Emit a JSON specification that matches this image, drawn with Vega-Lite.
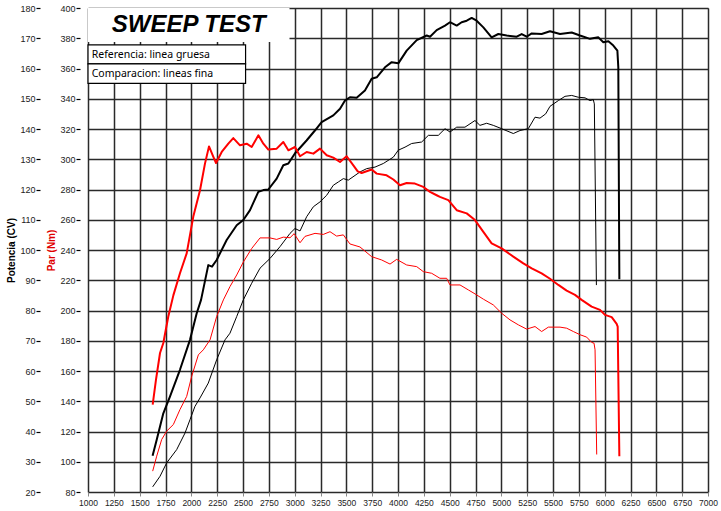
{
  "$schema": "https://vega.github.io/schema/vega-lite/v6.json",
  "width": 620,
  "height": 484,
  "autosize": {"type": "none"},
  "padding": {"left": 88, "top": 8, "right": 13, "bottom": 19},
  "background": "white",
  "config": {
    "view": {"stroke": "#888", "strokeWidth": 1},
    "axis": {"labelFont": "Liberation Sans", "labelFontSize": 9, "labelColor": "#222", "titleFont": "Liberation Sans", "labelFlush": false}
  },
  "datasets": {
    "power": [
      {"curve":"Referencia","rpm":1625,"cv":32},{"curve":"Referencia","rpm":1665,"cv":37.3},{"curve":"Referencia","rpm":1729,"cv":46},{"curve":"Referencia","rpm":1794,"cv":51.6},{"curve":"Referencia","rpm":1890,"cv":60.4},{"curve":"Referencia","rpm":1987,"cv":70.3},{"curve":"Referencia","rpm":2052,"cv":79.1},{"curve":"Referencia","rpm":2094,"cv":83.5},{"curve":"Referencia","rpm":2164,"cv":95},{"curve":"Referencia","rpm":2200,"cv":94.5},{"curve":"Referencia","rpm":2245,"cv":96.7},{"curve":"Referencia","rpm":2342,"cv":103.3},{"curve":"Referencia","rpm":2439,"cv":108.2},{"curve":"Referencia","rpm":2503,"cv":109.9},{"curve":"Referencia","rpm":2568,"cv":113.2},{"curve":"Referencia","rpm":2648,"cv":119.2},{"curve":"Referencia","rpm":2697,"cv":119.8},{"curve":"Referencia","rpm":2745,"cv":120},{"curve":"Referencia","rpm":2826,"cv":123.6},{"curve":"Referencia","rpm":2890,"cv":128},{"curve":"Referencia","rpm":2939,"cv":128.6},{"curve":"Referencia","rpm":3002,"cv":131.9},{"curve":"Referencia","rpm":3115,"cv":136.2},{"curve":"Referencia","rpm":3196,"cv":139.5},{"curve":"Referencia","rpm":3261,"cv":142.3},{"curve":"Referencia","rpm":3374,"cv":144.5},{"curve":"Referencia","rpm":3439,"cv":146.7},{"curve":"Referencia","rpm":3487,"cv":149.4},{"curve":"Referencia","rpm":3535,"cv":150.5},{"curve":"Referencia","rpm":3600,"cv":150.3},{"curve":"Referencia","rpm":3680,"cv":152.7},{"curve":"Referencia","rpm":3745,"cv":156.6},{"curve":"Referencia","rpm":3794,"cv":157.1},{"curve":"Referencia","rpm":3874,"cv":160.4},{"curve":"Referencia","rpm":3939,"cv":162.1},{"curve":"Referencia","rpm":4003,"cv":161.7},{"curve":"Referencia","rpm":4084,"cv":165.9},{"curve":"Referencia","rpm":4181,"cv":169.4},{"curve":"Referencia","rpm":4278,"cv":170.9},{"curve":"Referencia","rpm":4310,"cv":170.5},{"curve":"Referencia","rpm":4374,"cv":172.7},{"curve":"Referencia","rpm":4455,"cv":174.2},{"curve":"Referencia","rpm":4503,"cv":175.3},{"curve":"Referencia","rpm":4568,"cv":174.2},{"curve":"Referencia","rpm":4616,"cv":175.3},{"curve":"Referencia","rpm":4665,"cv":175.8},{"curve":"Referencia","rpm":4713,"cv":176.7},{"curve":"Referencia","rpm":4761,"cv":175.8},{"curve":"Referencia","rpm":4826,"cv":173.6},{"curve":"Referencia","rpm":4906,"cv":170.3},{"curve":"Referencia","rpm":4971,"cv":171.4},{"curve":"Referencia","rpm":5052,"cv":170.9},{"curve":"Referencia","rpm":5149,"cv":170.5},{"curve":"Referencia","rpm":5197,"cv":171.4},{"curve":"Referencia","rpm":5245,"cv":170.5},{"curve":"Referencia","rpm":5294,"cv":171.6},{"curve":"Referencia","rpm":5390,"cv":171.4},{"curve":"Referencia","rpm":5471,"cv":172.3},{"curve":"Referencia","rpm":5568,"cv":171.4},{"curve":"Referencia","rpm":5681,"cv":171.9},{"curve":"Referencia","rpm":5761,"cv":170.9},{"curve":"Referencia","rpm":5858,"cv":169.8},{"curve":"Referencia","rpm":5939,"cv":170.3},{"curve":"Referencia","rpm":5987,"cv":168.7},{"curve":"Referencia","rpm":6036,"cv":169},{"curve":"Referencia","rpm":6084,"cv":167.6},{"curve":"Referencia","rpm":6123,"cv":165.9},{"curve":"Referencia","rpm":6132,"cv":160.4},{"curve":"Referencia","rpm":6142,"cv":90.3},
      {"curve":"Comparacion","rpm":1626,"cv":21.7},{"curve":"Comparacion","rpm":1697,"cv":25.2},{"curve":"Comparacion","rpm":1761,"cv":29.6},{"curve":"Comparacion","rpm":1858,"cv":34},{"curve":"Comparacion","rpm":1939,"cv":39.5},{"curve":"Comparacion","rpm":1987,"cv":43.9},{"curve":"Comparacion","rpm":2035,"cv":48.3},{"curve":"Comparacion","rpm":2084,"cv":51.1},{"curve":"Comparacion","rpm":2164,"cv":56},{"curve":"Comparacion","rpm":2245,"cv":63.7},{"curve":"Comparacion","rpm":2326,"cv":70.3},{"curve":"Comparacion","rpm":2374,"cv":72.5},{"curve":"Comparacion","rpm":2439,"cv":78},{"curve":"Comparacion","rpm":2503,"cv":83.5},{"curve":"Comparacion","rpm":2584,"cv":89},{"curve":"Comparacion","rpm":2665,"cv":94},{"curve":"Comparacion","rpm":2761,"cv":97.2},{"curve":"Comparacion","rpm":2858,"cv":101.1},{"curve":"Comparacion","rpm":2955,"cv":105.5},{"curve":"Comparacion","rpm":3003,"cv":107.1},{"curve":"Comparacion","rpm":3052,"cv":106.3},{"curve":"Comparacion","rpm":3116,"cv":111},{"curve":"Comparacion","rpm":3181,"cv":114.3},{"curve":"Comparacion","rpm":3245,"cv":115.9},{"curve":"Comparacion","rpm":3310,"cv":118.1},{"curve":"Comparacion","rpm":3374,"cv":121.4},{"curve":"Comparacion","rpm":3423,"cv":122.5},{"curve":"Comparacion","rpm":3471,"cv":123.6},{"curve":"Comparacion","rpm":3519,"cv":123.1},{"curve":"Comparacion","rpm":3632,"cv":125.8},{"curve":"Comparacion","rpm":3697,"cv":126.9},{"curve":"Comparacion","rpm":3777,"cv":127.4},{"curve":"Comparacion","rpm":3858,"cv":128.6},{"curve":"Comparacion","rpm":3955,"cv":130.7},{"curve":"Comparacion","rpm":4003,"cv":133},{"curve":"Comparacion","rpm":4068,"cv":134},{"curve":"Comparacion","rpm":4132,"cv":135.2},{"curve":"Comparacion","rpm":4229,"cv":135.7},{"curve":"Comparacion","rpm":4294,"cv":137.9},{"curve":"Comparacion","rpm":4390,"cv":137.9},{"curve":"Comparacion","rpm":4455,"cv":140.1},{"curve":"Comparacion","rpm":4503,"cv":139},{"curve":"Comparacion","rpm":4568,"cv":140.6},{"curve":"Comparacion","rpm":4648,"cv":140.6},{"curve":"Comparacion","rpm":4745,"cv":142.8},{"curve":"Comparacion","rpm":4793,"cv":141.2},{"curve":"Comparacion","rpm":4858,"cv":141.9},{"curve":"Comparacion","rpm":4922,"cv":141.2},{"curve":"Comparacion","rpm":5003,"cv":140.1},{"curve":"Comparacion","rpm":5116,"cv":138.5},{"curve":"Comparacion","rpm":5181,"cv":139.5},{"curve":"Comparacion","rpm":5261,"cv":140.1},{"curve":"Comparacion","rpm":5326,"cv":143.9},{"curve":"Comparacion","rpm":5374,"cv":143.6},{"curve":"Comparacion","rpm":5429,"cv":145},{"curve":"Comparacion","rpm":5471,"cv":147.5},{"curve":"Comparacion","rpm":5552,"cv":149.4},{"curve":"Comparacion","rpm":5616,"cv":150.8},{"curve":"Comparacion","rpm":5681,"cv":151.1},{"curve":"Comparacion","rpm":5745,"cv":150.5},{"curve":"Comparacion","rpm":5810,"cv":150.3},{"curve":"Comparacion","rpm":5858,"cv":149.4},{"curve":"Comparacion","rpm":5890,"cv":149.7},{"curve":"Comparacion","rpm":5900,"cv":148.3},{"curve":"Comparacion","rpm":5920,"cv":88.4}
    ],
    "torque": [
      {"curve":"Referencia","rpm":1626,"nm":137.8},{"curve":"Referencia","rpm":1658,"nm":154.3},{"curve":"Referencia","rpm":1697,"nm":171.9},{"curve":"Referencia","rpm":1729,"nm":178.5},{"curve":"Referencia","rpm":1777,"nm":196},{"curve":"Referencia","rpm":1826,"nm":210},{"curve":"Referencia","rpm":1890,"nm":224.6},{"curve":"Referencia","rpm":1955,"nm":237.8},{"curve":"Referencia","rpm":2019,"nm":262.1},{"curve":"Referencia","rpm":2084,"nm":279.5},{"curve":"Referencia","rpm":2132,"nm":297.1},{"curve":"Referencia","rpm":2171,"nm":308.5},{"curve":"Referencia","rpm":2207,"nm":302.6},{"curve":"Referencia","rpm":2239,"nm":297.5},{"curve":"Referencia","rpm":2294,"nm":304.8},{"curve":"Referencia","rpm":2358,"nm":310.3},{"curve":"Referencia","rpm":2406,"nm":314},{"curve":"Referencia","rpm":2471,"nm":309.2},{"curve":"Referencia","rpm":2536,"nm":310.3},{"curve":"Referencia","rpm":2584,"nm":308.1},{"curve":"Referencia","rpm":2649,"nm":315.8},{"curve":"Referencia","rpm":2697,"nm":310.3},{"curve":"Referencia","rpm":2745,"nm":306.4},{"curve":"Referencia","rpm":2826,"nm":307},{"curve":"Referencia","rpm":2890,"nm":311.4},{"curve":"Referencia","rpm":2939,"nm":305.9},{"curve":"Referencia","rpm":3003,"nm":308.1},{"curve":"Referencia","rpm":3052,"nm":302},{"curve":"Referencia","rpm":3116,"nm":304.8},{"curve":"Referencia","rpm":3181,"nm":303.7},{"curve":"Referencia","rpm":3245,"nm":307},{"curve":"Referencia","rpm":3310,"nm":302.6},{"curve":"Referencia","rpm":3374,"nm":301.1},{"curve":"Referencia","rpm":3439,"nm":298.2},{"curve":"Referencia","rpm":3503,"nm":302},{"curve":"Referencia","rpm":3568,"nm":296},{"curve":"Referencia","rpm":3610,"nm":292},{"curve":"Referencia","rpm":3648,"nm":290.9},{"curve":"Referencia","rpm":3745,"nm":293.2},{"curve":"Referencia","rpm":3794,"nm":290.5},{"curve":"Referencia","rpm":3890,"nm":289.4},{"curve":"Referencia","rpm":3955,"nm":286.6},{"curve":"Referencia","rpm":4019,"nm":282.8},{"curve":"Referencia","rpm":4084,"nm":284.3},{"curve":"Referencia","rpm":4164,"nm":283.9},{"curve":"Referencia","rpm":4245,"nm":281.7},{"curve":"Referencia","rpm":4310,"nm":278.4},{"curve":"Referencia","rpm":4374,"nm":276.2},{"curve":"Referencia","rpm":4406,"nm":275.1},{"curve":"Referencia","rpm":4487,"nm":273},{"curve":"Referencia","rpm":4568,"nm":266.3},{"curve":"Referencia","rpm":4665,"nm":264.2},{"curve":"Referencia","rpm":4745,"nm":259.8},{"curve":"Referencia","rpm":4826,"nm":252},{"curve":"Referencia","rpm":4906,"nm":244.4},{"curve":"Referencia","rpm":5003,"nm":241.1},{"curve":"Referencia","rpm":5116,"nm":235.6},{"curve":"Referencia","rpm":5213,"nm":231.2},{"curve":"Referencia","rpm":5294,"nm":227.9},{"curve":"Referencia","rpm":5390,"nm":224.6},{"curve":"Referencia","rpm":5471,"nm":221},{"curve":"Referencia","rpm":5552,"nm":216.9},{"curve":"Referencia","rpm":5632,"nm":213.1},{"curve":"Referencia","rpm":5713,"nm":210.3},{"curve":"Referencia","rpm":5777,"nm":207},{"curve":"Referencia","rpm":5874,"nm":202.6},{"curve":"Referencia","rpm":5955,"nm":200.4},{"curve":"Referencia","rpm":6003,"nm":197.1},{"curve":"Referencia","rpm":6068,"nm":195.6},{"curve":"Referencia","rpm":6116,"nm":191.2},{"curve":"Referencia","rpm":6126,"nm":189.4},{"curve":"Referencia","rpm":6142,"nm":103.7},
      {"curve":"Comparacion","rpm":1626,"nm":93.8},{"curve":"Comparacion","rpm":1665,"nm":103.7},{"curve":"Comparacion","rpm":1713,"nm":114.7},{"curve":"Comparacion","rpm":1761,"nm":120.2},{"curve":"Comparacion","rpm":1826,"nm":124.6},{"curve":"Comparacion","rpm":1890,"nm":134.5},{"curve":"Comparacion","rpm":1955,"nm":143.2},{"curve":"Comparacion","rpm":2003,"nm":156.4},{"curve":"Comparacion","rpm":2068,"nm":170.7},{"curve":"Comparacion","rpm":2116,"nm":174},{"curve":"Comparacion","rpm":2181,"nm":180.6},{"curve":"Comparacion","rpm":2245,"nm":196},{"curve":"Comparacion","rpm":2310,"nm":207},{"curve":"Comparacion","rpm":2374,"nm":215.8},{"curve":"Comparacion","rpm":2439,"nm":223.5},{"curve":"Comparacion","rpm":2503,"nm":232},{"curve":"Comparacion","rpm":2584,"nm":241},{"curve":"Comparacion","rpm":2665,"nm":248},{"curve":"Comparacion","rpm":2761,"nm":248},{"curve":"Comparacion","rpm":2826,"nm":247},{"curve":"Comparacion","rpm":2890,"nm":248.5},{"curve":"Comparacion","rpm":2955,"nm":248.1},{"curve":"Comparacion","rpm":2995,"nm":250.8},{"curve":"Comparacion","rpm":3052,"nm":244.8},{"curve":"Comparacion","rpm":3100,"nm":249},{"curve":"Comparacion","rpm":3197,"nm":251},{"curve":"Comparacion","rpm":3277,"nm":250.3},{"curve":"Comparacion","rpm":3342,"nm":252.1},{"curve":"Comparacion","rpm":3406,"nm":249.2},{"curve":"Comparacion","rpm":3471,"nm":250},{"curve":"Comparacion","rpm":3535,"nm":244},{"curve":"Comparacion","rpm":3632,"nm":242},{"curve":"Comparacion","rpm":3745,"nm":235.6},{"curve":"Comparacion","rpm":3842,"nm":233.4},{"curve":"Comparacion","rpm":3923,"nm":230.7},{"curve":"Comparacion","rpm":3987,"nm":233.8},{"curve":"Comparacion","rpm":4084,"nm":230.1},{"curve":"Comparacion","rpm":4181,"nm":229},{"curve":"Comparacion","rpm":4245,"nm":225.7},{"curve":"Comparacion","rpm":4326,"nm":224.6},{"curve":"Comparacion","rpm":4406,"nm":221.3},{"curve":"Comparacion","rpm":4471,"nm":221.3},{"curve":"Comparacion","rpm":4503,"nm":216.9},{"curve":"Comparacion","rpm":4600,"nm":216.9},{"curve":"Comparacion","rpm":4681,"nm":213.6},{"curve":"Comparacion","rpm":4745,"nm":211},{"curve":"Comparacion","rpm":4826,"nm":207.5},{"curve":"Comparacion","rpm":4922,"nm":203.7},{"curve":"Comparacion","rpm":5003,"nm":198.2},{"curve":"Comparacion","rpm":5084,"nm":193.8},{"curve":"Comparacion","rpm":5165,"nm":190.5},{"curve":"Comparacion","rpm":5245,"nm":187.7},{"curve":"Comparacion","rpm":5326,"nm":189.4},{"curve":"Comparacion","rpm":5390,"nm":186.1},{"curve":"Comparacion","rpm":5455,"nm":189},{"curve":"Comparacion","rpm":5568,"nm":189},{"curve":"Comparacion","rpm":5632,"nm":188.3},{"curve":"Comparacion","rpm":5697,"nm":186.1},{"curve":"Comparacion","rpm":5761,"nm":184},{"curve":"Comparacion","rpm":5826,"nm":182.4},{"curve":"Comparacion","rpm":5874,"nm":178.9},{"curve":"Comparacion","rpm":5897,"nm":178.4},{"curve":"Comparacion","rpm":5907,"nm":174},{"curve":"Comparacion","rpm":5923,"nm":104.8}
    ]
  },
  "layer": [
    {
      "layer": [
        {
          "data": {"name": "power"},
          "mark": {"type": "line", "color": "black", "strokeJoin": "round"},
          "encoding": {
            "x": {"field": "rpm", "type": "quantitative", "scale": {"domain": [1000, 7000], "nice": false, "zero": false},
              "axis": {"title": null, "values": [1000,1250,1500,1750,2000,2250,2500,2750,3000,3250,3500,3750,4000,4250,4500,4750,5000,5250,5500,5750,6000,6250,6500,6750,7000], "format": "d", "labelOverlap": false, "labelBound": false, "labelFlush": false, "labelFontSize": 8.5, "grid": true, "gridColor": "#2a2a2a", "gridWidth": 1.5, "domain": false, "ticks": true, "tickSize": 4, "tickColor": "#888", "labelPadding": 2}},
            "y": {"field": "cv", "type": "quantitative", "scale": {"domain": [20, 180], "nice": false, "zero": false},
              "axis": {"orient": "left", "offset": 48, "title": "Potencia (CV)", "titleFontSize": 10, "titleFontWeight": "bold", "titleColor": "black", "titlePadding": 3, "values": [20,30,40,50,60,70,80,90,100,110,120,130,140,150,160,170,180], "labelOverlap": false, "labelFlush": false, "grid": true, "gridColor": "#2a2a2a", "gridWidth": 1.5, "domain": false, "ticks": true, "tickSize": 4, "tickColor": "black", "tickWidth": 1.2, "labelPadding": 1}},
            "detail": {"field": "curve", "type": "nominal"},
            "strokeWidth": {"field": "curve", "type": "nominal", "scale": {"domain": ["Referencia", "Comparacion"], "range": [2, 1]}, "legend": null}
          }
        }
      ]
    },
    {
      "layer": [
        {
          "data": {"name": "torque"},
          "mark": {"type": "line", "color": "#ff0000", "strokeJoin": "round"},
          "encoding": {
            "x": {"field": "rpm", "type": "quantitative", "scale": {"domain": [1000, 7000], "nice": false, "zero": false}, "axis": null},
            "y": {"field": "nm", "type": "quantitative", "scale": {"domain": [80, 400], "nice": false, "zero": false},
              "axis": {"orient": "left", "offset": 8, "title": "Par (Nm)", "titleFontSize": 10, "titleFontWeight": "bold", "titleColor": "#e00000", "titlePadding": 3, "values": [80,100,120,140,160,180,200,220,240,260,280,300,320,340,360,380,400], "labelOverlap": false, "labelFlush": false, "grid": false, "domain": false, "ticks": true, "tickSize": 4, "tickColor": "black", "tickWidth": 1.2, "labelPadding": 1}},
            "detail": {"field": "curve", "type": "nominal"},
            "strokeWidth": {"field": "curve", "type": "nominal", "scale": {"domain": ["Referencia", "Comparacion"], "range": [2, 1]}, "legend": null}
          }
        }
      ]
    },
    {
      "layer": [
        {
          "data": {"values": [{}]},
          "mark": {"type": "rect", "fill": "white"},
          "encoding": {
            "x": {"datum": 1000, "type": "quantitative", "scale": {"domain": [1000, 7000], "nice": false, "zero": false}, "axis": null}, "x2": {"datum": 2950},
            "y": {"datum": 180, "type": "quantitative", "scale": {"domain": [20, 180], "nice": false, "zero": false}, "axis": null}, "y2": {"datum": 168.8}
          }
        },
        {
          "data": {"values": [{}]},
          "mark": {"type": "rect", "fill": "white", "stroke": "black", "strokeWidth": 1.2},
          "encoding": {
            "x": {"datum": 1000, "type": "quantitative", "axis": null}, "x2": {"datum": 2525},
            "y": {"datum": 167.8, "type": "quantitative", "axis": null}, "y2": {"datum": 161.5}
          }
        },
        {
          "data": {"values": [{}]},
          "mark": {"type": "rect", "fill": "white", "stroke": "black", "strokeWidth": 1.2},
          "encoding": {
            "x": {"datum": 1000, "type": "quantitative", "axis": null}, "x2": {"datum": 2525},
            "y": {"datum": 161.5, "type": "quantitative", "axis": null}, "y2": {"datum": 155.1}
          }
        },
        {
          "data": {"values": [{}]},
          "mark": {"type": "text", "text": "SWEEP TEST", "font": "Liberation Sans", "fontSize": 24, "fontWeight": "bold", "fontStyle": "italic", "align": "center", "baseline": "alphabetic", "color": "black"},
          "encoding": {"x": {"datum": 1975, "type": "quantitative", "axis": null}, "y": {"datum": 172, "type": "quantitative", "axis": null}}
        },
        {
          "data": {"values": [{}]},
          "mark": {"type": "text", "text": "Referencia: linea gruesa", "font": "Noto Sans", "fontSize": 10.5, "align": "left", "baseline": "middle", "color": "black"},
          "encoding": {"x": {"datum": 1036, "type": "quantitative", "axis": null}, "y": {"datum": 164.6, "type": "quantitative", "axis": null}}
        },
        {
          "data": {"values": [{}]},
          "mark": {"type": "text", "text": "Comparacion: lineas fina", "font": "Noto Sans", "fontSize": 10.5, "align": "left", "baseline": "middle", "color": "black"},
          "encoding": {"x": {"datum": 1036, "type": "quantitative", "axis": null}, "y": {"datum": 158.3, "type": "quantitative", "axis": null}}
        }
      ]
    }
  ],
  "resolve": {"scale": {"x": "independent", "y": "independent"}, "axis": {"x": "independent", "y": "independent"}}
}
